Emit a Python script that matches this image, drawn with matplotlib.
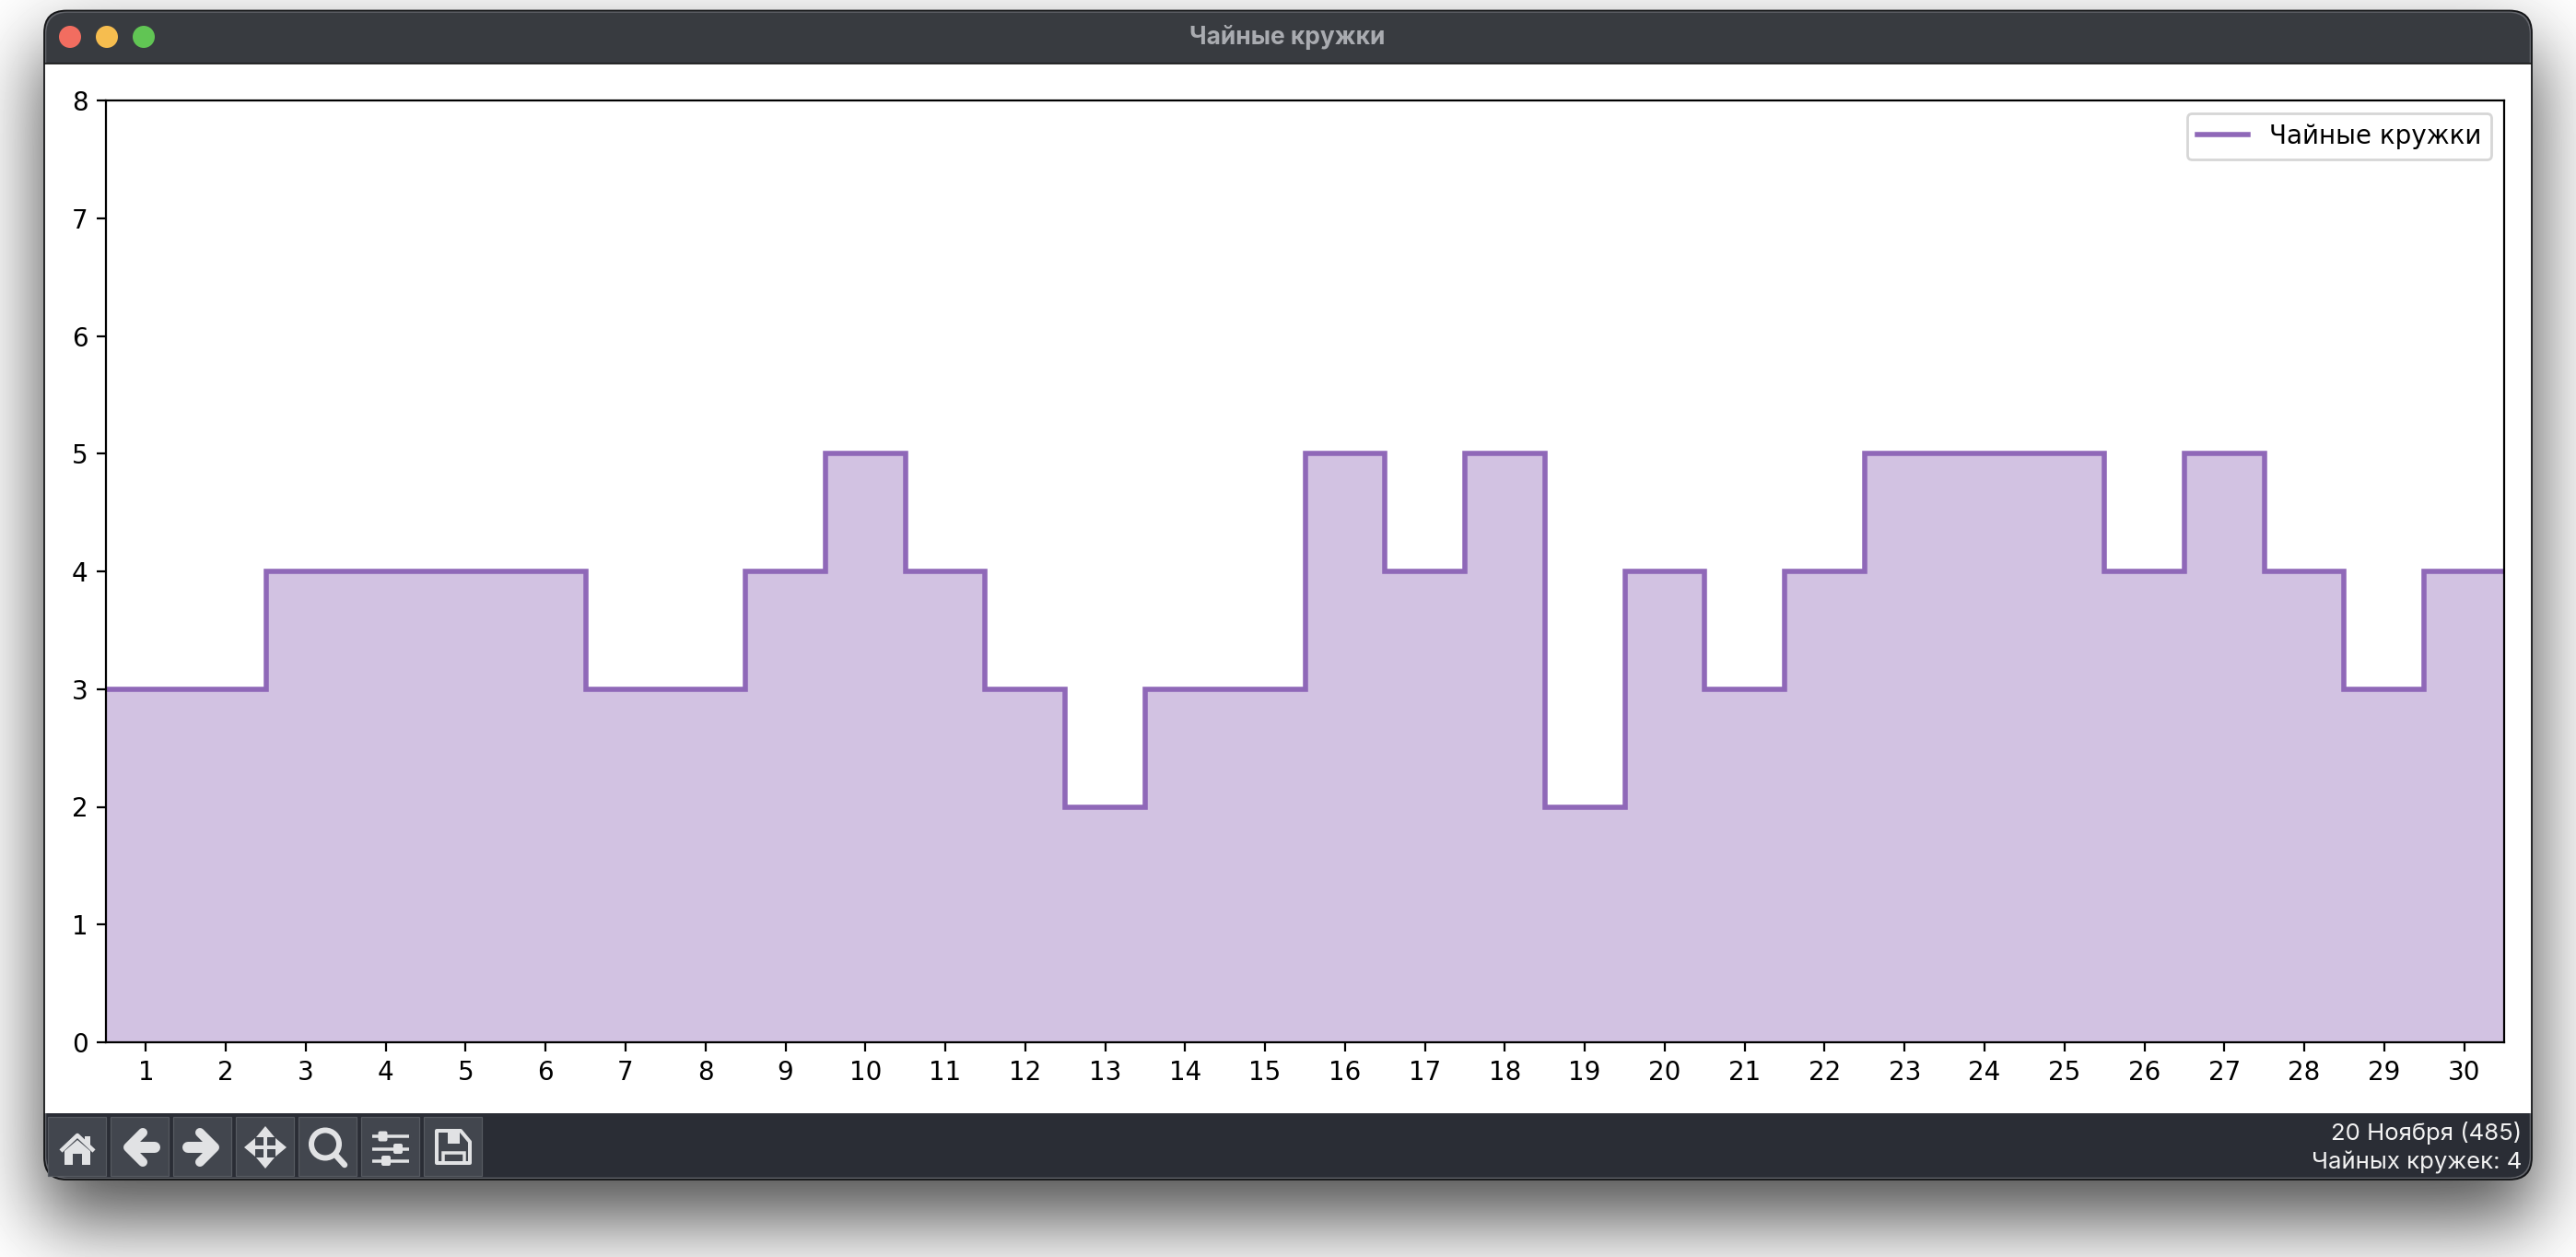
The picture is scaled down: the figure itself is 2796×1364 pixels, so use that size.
import math
import numpy as np
import matplotlib
matplotlib.use("Agg")
import matplotlib.pyplot as plt
from matplotlib.lines import Line2D
from matplotlib.patches import Circle, FancyBboxPatch, Polygon, Rectangle

days = list(range(1, 31))
mugs = [3, 3, 4, 4, 4, 4, 3, 3, 4, 5, 4, 3, 2, 3, 3,
        5, 4, 5, 2, 4, 3, 4, 5, 5, 5, 4, 5, 4, 3, 4]
series_name = "Чайные кружки"
status_lines = ["20 Ноября (485)", "Чайных кружек: 4"]

W, H, DPI = 2796, 1364, 200
PT = 72 / DPI
PURPLE = "#8f68b8"
ICON = "#e1e2e4"

fig = plt.figure(figsize=(W / DPI, H / DPI), dpi=DPI, facecolor="white")

# ---- drop shadow backdrop
erf = np.vectorize(math.erf)
def soft(v, a, b, s):
    return 0.5 * (erf((v - a) / (s * 2 ** 0.5)) - erf((v - b) / (s * 2 ** 0.5)))
xs = soft(np.arange(W), 44, 2752, 40)
ys = soft(np.arange(H), 50, 1323, 42)
shadow = 1 - 0.70 * np.outer(ys, xs)
bg = fig.add_axes([0, 0, 1, 1], zorder=0)
bg.imshow(shadow, cmap="gray", vmin=0, vmax=1, extent=(0, W, H, 0), aspect="auto",
          interpolation="bilinear")
bg.set_xlim(0, W)
bg.set_ylim(H, 0)
bg.axis("off")

# ---- window chrome
WIN = dict(boxstyle="round,pad=0,rounding_size=24")
win = FancyBboxPatch((48, 11.5), 2700, 1268.5, fc="white", ec="none", **WIN)
bg.add_patch(win)
title_bar = Rectangle((40, 5), 2716, 64, fc="#383b40", ec="none")
bg.add_patch(title_bar)
title_bar.set_clip_path(win)
tool_bar = Rectangle((40, 1208), 2716, 80, fc="#2a2d35", ec="none")
bg.add_patch(tool_bar)
tool_bar.set_clip_path(win)
for y0, h in ((5, 64), (1208, 80)):
    inner = FancyBboxPatch((49.5, 13), 2697, 1265.5, fc="none", ec="#62646a", lw=1.6 * PT, **WIN)
    bg.add_patch(inner)
    inner.set_clip_path(Rectangle((40, y0), 2716, h, transform=bg.transData))
bg.add_patch(FancyBboxPatch((48, 11.5), 2700, 1268.5, fc="none", ec="#141517", lw=1.8 * PT, **WIN))
bg.plot([48, 2748], [69, 69], color="#111111", lw=1.6 * PT, solid_capstyle="butt")

for cx, c in zip((76, 116, 156), ("#f26d60", "#f6bd4f", "#61c554")):
    bg.add_patch(Circle((cx, 40), 12, fc=c, ec="none"))

bg.text(1397, 40, series_name, color="#a9abb0", fontsize=9.5, fontweight="bold",
        family=["Inter", "Roboto", "DejaVu Sans"], ha="center", va="center")
for y, s in zip((1229, 1262), status_lines):
    bg.text(2737, y, s, color="#f2f2f2", fontsize=9.25, family=["Inter", "Roboto", "DejaVu Sans"],
            ha="right", va="center")

# ---- toolbar buttons
btn_left = [52, 120, 188, 256, 324, 392, 460]
for x0 in btn_left:
    bg.add_patch(Rectangle((x0, 1212), 63, 64, fc="#42464e", ec="#565a61", lw=1.2 * PT))

def stroke(xy, lw, cap="round"):
    x, y = zip(*xy)
    bg.plot(x, y, color=ICON, lw=lw * PT, solid_capstyle=cap, solid_joinstyle="round")

def fill(xy):
    bg.add_patch(Polygon(xy, closed=True, fc=ICON, ec="none"))

# home
stroke([(66, 1249), (84, 1232), (102, 1249)], 4.5, "butt")
fill([(70, 1249), (84, 1237), (98, 1249), (98, 1264), (89, 1264), (89, 1252), (79, 1252), (79, 1264), (70, 1264)])
fill([(92, 1233), (98, 1233), (98, 1243), (92, 1238)])

# back / forward
for c, d in ((152, 1), (220, -1)):
    stroke([(c + d * 3, 1229), (c - d * 13, 1245), (c + d * 3, 1261)], 10)
    stroke([(c - d * 10, 1245), (c + d * 16, 1245)], 12)

# move
mx, my = 288, 1245
stroke([(mx - 16, my), (mx + 16, my)], 4, "butt")
stroke([(mx, my - 16), (mx, my + 16)], 4, "butt")
for sx, sy in ((1, 0), (-1, 0), (0, 1), (0, -1)):
    px, py = -sy, sx
    fill([(mx + sx * 23, my + sy * 23),
          (mx + sx * 11 + px * 10, my + sy * 11 + py * 10),
          (mx + sx * 11 - px * 10, my + sy * 11 - py * 10)])

# zoom
bg.add_patch(Circle((353, 1241.5), 15, fc="none", ec=ICON, lw=6 * PT))
stroke([(364, 1253), (374, 1264)], 6.5)

# configure
for y, kx in ((1233, 415.5), (1246.5, 432), (1259.5, 419)):
    stroke([(404, y), (444, y)], 3.5, "butt")
    bg.add_patch(FancyBboxPatch((kx - 4, y - 4.5), 8, 9, boxstyle="round,pad=1,rounding_size=2",
                                fc=ICON, ec="none"))

# save
bg.add_patch(Polygon([(474, 1227), (500, 1227), (510, 1239), (510, 1262), (474, 1262)], closed=True,
                     fc="none", ec=ICON, lw=4 * PT, joinstyle="round"))
fill([(486, 1227), (499, 1227), (499, 1241), (486, 1241)])
bg.add_patch(Rectangle((481, 1251), 23, 11, fc="none", ec=ICON, lw=3.5 * PT))

# ---- chart
L, R, T, B = 115, 2718, 109, 1131
ax = fig.add_axes([L / W, 1 - B / H, (R - L) / W, (B - T) / H], zorder=1)
edges = np.arange(len(days) + 1) + 0.5
ax.stairs(mugs, edges, fill=True, color=PURPLE, alpha=0.4, lw=0)
ax.stairs(mugs, edges, baseline=None, color=PURPLE, lw=2)
ax.set_xlim(edges[0], edges[-1])
ax.set_ylim(0, 8)
ax.set_xticks(days)
ax.set_yticks(range(0, 9))
ax.legend(handles=[Line2D([], [], color=PURPLE, lw=2, label=series_name)], loc="upper right")

fig.savefig("out.png", dpi=DPI)
